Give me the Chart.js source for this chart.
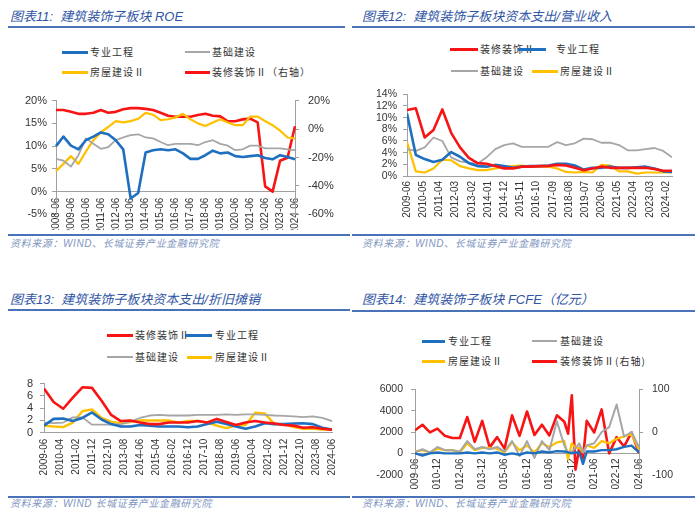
<!DOCTYPE html>
<html><head><meta charset="utf-8">
<script src="https://cdn.jsdelivr.net/npm/chart.js@4.4.1/dist/chart.umd.min.js"></script>
<style>
html,body{margin:0;padding:0;background:#fff;}
body{width:700px;height:521px;position:relative;overflow:hidden;font-family:'Noto Sans CJK SC',sans-serif;}
.title{position:absolute;font-style:italic;font-size:13px;line-height:16px;color:#2f55a4;white-space:nowrap;font-family:'Liberation Sans','Noto Sans CJK SC',sans-serif;}
.rule{position:absolute;background:#4a72b8;}
.src{position:absolute;font-style:italic;font-size:10px;line-height:14px;color:#8096c2;white-space:nowrap;font-family:'Liberation Sans','Noto Sans CJK SC',sans-serif;letter-spacing:0.6px;}
.lg{position:absolute;font-size:10px;line-height:14px;color:#333;white-space:nowrap;letter-spacing:1px;}
.sw{position:absolute;}
canvas{position:absolute;}
</style>
</head><body>
<div class="title" style="left:10px;top:9px">图表11:&nbsp; 建筑装饰子板块 ROE</div>
<div class="rule" style="left:8px;top:26px;width:337px;height:2px"></div>
<div class="title" style="left:362px;top:9px">图表12:&nbsp; 建筑装饰子板块资本支出/营业收入</div>
<div class="rule" style="left:352px;top:26px;width:343px;height:2px"></div>
<div class="title" style="left:10px;top:292px">图表13:&nbsp; 建筑装饰子板块资本支出/折旧摊销</div>
<div class="rule" style="left:8px;top:309px;width:342px;height:2px"></div>
<div class="title" style="left:362px;top:292px">图表14:&nbsp; 建筑装饰子板块 FCFE（亿元）</div>
<div class="rule" style="left:352px;top:310px;width:343px;height:2px"></div>

<div class="rule" style="left:8px;top:234px;width:342px;height:1.5px"></div>
<div class="src" style="left:10px;top:237px">资料来源：WIND、长城证券产业金融研究院</div>
<div class="rule" style="left:352px;top:234px;width:343px;height:1.5px"></div>
<div class="src" style="left:362px;top:237px">资料来源：WIND、长城证券产业金融研究院</div>
<div class="rule" style="left:8px;top:496px;width:342px;height:1.5px"></div>
<div class="src" style="left:10px;top:497px">资料来源：WIND 长城证券产业金融研究院</div>
<div class="rule" style="left:352px;top:496px;width:343px;height:1.5px"></div>
<div class="src" style="left:362px;top:497px">资料来源：WIND、长城证券产业金融研究院</div>

<canvas id="c1" width="350" height="145" style="left:0px;top:85px"></canvas>
<canvas id="c2" width="350" height="148" style="left:350px;top:82px"></canvas>
<canvas id="c3" width="350" height="120" style="left:0px;top:370px"></canvas>
<canvas id="c4" width="350" height="116" style="left:350px;top:374px"></canvas>

<script>
// ---------------- Chart 11: ROE ----------------
const roeDates = ['2008-06','2008-12','2009-06','2009-12','2010-06','2010-12','2011-06','2011-12','2012-06','2012-12','2013-06','2013-12','2014-06','2014-12','2015-06','2015-12','2016-06','2016-12','2017-06','2017-12','2018-06','2018-12','2019-06','2019-12','2020-06','2020-12','2021-06','2021-12','2022-06','2022-12','2023-06','2023-12','2024-06'];
const roeZhuanye = [10.0,12.1,10.1,9.3,11.3,12.1,13.0,12.6,11.3,9.3,-1.5,-0.3,8.6,9.1,9.3,9.1,9.3,8.4,7.2,7.2,8.0,9.0,8.4,8.6,7.8,7.6,7.8,8.0,7.4,7.1,8.0,7.6,7.1];
const roeJichu = [7.2,6.8,5.5,8.0,11.7,10.5,9.4,9.8,11.3,11.9,12.4,12.6,11.9,11.7,10.9,10.2,10.5,10.5,10.5,10.2,10.9,11.3,10.5,10.1,9.1,9.3,10.1,10.1,9.5,9.5,9.5,9.3,9.1];
const roeFangwu = [4.5,6.1,7.8,6.1,8.8,11.3,13.0,14.2,15.5,15.2,15.5,16.0,17.3,16.9,15.7,15.9,16.3,17.1,15.9,15.0,14.4,15.2,15.9,15.2,14.6,14.6,16.5,16.5,15.5,14.6,13.4,11.9,11.7];
const roeZhuangxiu = [13.4,13.4,12.1,10.7,10.7,11.5,13.4,11.5,12.1,13.9,14.7,14.7,14.2,13.4,11.5,9.4,8.6,8.6,8.6,9.9,10.7,9.4,8.9,5.5,5.5,6.8,7.3,4.7,-40.3,-44.0,-22.3,-20.2,2.0];
const roeLeftTicks = [-5,0,5,10,15,20];
const roeRightTicks = [-60,-40,-20,0,20];

// ---------------- Chart 12: 资本支出/营业收入 ----------------
const capRevDates = ['2009-06','2009-12','2010-06','2010-12','2011-06','2011-12','2012-06','2012-12','2013-06','2013-12','2014-06','2014-12','2015-06','2015-12','2016-06','2016-12','2017-06','2017-12','2018-06','2018-12','2019-06','2019-12','2020-06','2020-12','2021-06','2021-12','2022-06','2022-12','2023-06','2023-12','2024-06'];
const capRevZhuangxiu = [11.3,11.6,6.6,7.9,11.4,7.4,4.9,3.1,2.2,2.1,1.7,1.3,1.3,1.6,1.6,1.7,1.7,1.9,1.8,1.4,1.0,1.3,1.6,1.4,1.4,1.4,1.4,1.4,1.2,0.9,0.9];
const capRevZhuanye = [10.7,3.6,2.9,2.4,2.8,4.1,3.3,2.2,1.7,1.6,1.9,1.7,1.4,1.6,1.7,1.7,1.8,2.1,2.1,1.8,1.1,1.4,1.4,1.6,1.4,1.4,1.5,1.6,1.3,0.8,0.7];
const capRevJichu = [4.6,4.3,4.9,6.6,6.0,3.2,2.5,2.3,2.1,3.2,4.6,5.3,5.6,5.0,5.0,5.0,5.0,5.8,5.3,5.6,6.4,6.3,5.7,5.7,5.3,4.4,4.4,4.6,4.8,4.3,3.2];
const capRevFangwu = [5.8,0.8,0.6,1.3,2.8,2.7,1.7,1.3,1.0,1.0,1.3,1.6,1.7,1.8,1.6,1.6,1.6,1.3,0.7,0.6,0.7,0.6,1.9,1.8,0.8,0.8,0.4,0.6,0.6,0.6,0.6];
const capRevXTicks = ['2009-06','2010-05','2011-04','2012-03','2013-02','2014-01','2014-12','2015-11','2016-10','2017-09','2018-08','2019-07','2020-06','2021-05','2022-04','2023-03','2024-02'];
const capRevYTicks = [0,2,4,6,8,10,12,14];

// ---------------- Chart 13: 资本支出/折旧摊销 ----------------
const capDepDates = capRevDates.slice();
const capDepZhuangxiu = [7.2,5.0,3.9,5.7,7.4,7.3,5.2,2.9,1.9,2.0,1.65,1.4,1.4,1.65,1.65,1.65,1.9,1.65,2.25,1.75,1.25,1.65,1.9,1.65,1.5,1.25,1.15,0.8,0.9,0.65,0.5];
const capDepZhuanye = [1.15,2.25,2.3,1.9,2.4,3.3,2.15,1.4,1.0,1.0,1.25,1.15,1.0,1.0,1.0,0.9,1.0,1.4,1.8,1.4,1.0,0.65,1.0,1.55,1.4,1.4,1.5,1.55,1.4,0.8,0.5];
const capDepJichu = [1.65,1.55,1.65,2.5,2.5,1.3,1.3,1.3,1.4,1.8,2.4,2.8,2.9,2.8,2.8,2.8,2.9,2.9,2.9,3.0,2.9,3.0,3.0,2.9,2.8,2.75,2.65,2.55,2.65,2.4,1.9];
const capDepFangwu = [1.15,1.0,0.9,1.65,3.5,3.8,2.4,1.8,1.5,1.75,2.0,2.0,2.0,2.0,1.65,1.9,1.9,1.65,1.15,0.75,1.15,1.25,3.25,3.15,1.4,1.4,0.9,0.65,0.65,0.5,0.5];
const capDepXTicks = ['2009-06','2010-04','2011-02','2011-12','2012-10','2013-08','2014-06','2015-04','2016-02','2016-12','2017-10','2018-08','2019-06','2020-04','2021-02','2021-12','2022-10','2023-08','2024-06'];
const capDepYTicks = [0,2,4,6,8];

// ---------------- Chart 14: FCFE (亿元) ----------------
const fcfeDates = ['2009-06','2009-12','2010-06','2010-12','2011-06','2011-12','2012-06','2012-12','2013-06','2013-12','2014-06','2014-12','2015-06','2015-12','2016-06','2016-12','2017-06','2017-12','2018-06','2018-12','2019-06','2019-09','2019-12','2020-03','2020-06','2020-09','2020-12','2021-06','2021-12','2022-06','2022-12','2023-06','2023-12','2024-06'];
const fcfeZhuanye = [0,-200,0,85,0,0,0,85,0,85,0,85,-130,0,-130,85,0,170,85,210,170,85,0,85,85,-980,170,170,300,300,385,600,730,85];
const fcfeJichu = [85,385,85,600,300,300,170,1150,385,600,385,600,170,1150,-250,1150,-430,1150,300,3000,730,85,170,510,940,85,730,940,2000,2450,4580,1580,2000,600];
const fcfeFangwu = [170,300,85,430,300,300,85,940,300,510,510,430,85,1030,300,730,85,940,600,1030,1150,-560,940,510,510,85,730,510,1150,940,1370,1580,1800,300];
const fcfeZhuangxiu = [4,17,-1,8,-9,-14,-14,35,-23,26,-36,-12,-39,39,-9,48,-7,17,-8,39,24,-4,86,-88,-37,-61,26,-1,53,-50,-12,-34,-1,-50];
const fcfeXTicks = ['2009-06','2010-12','2012-06','2013-12','2015-06','2016-12','2018-06','2019-12','2021-06','2022-12','2024-06'];
const fcfeLeftTicks = [-2000,0,2000,4000,6000];
const fcfeRightTicks = [-100,0,100];

// ---------------- helpers ----------------
const C = {blue:'#1f6fc0', gray:'#a6a6a6', yellow:'#ffc000', red:'#f81414'};
const TICKFONT = "'Liberation Sans', Arial, sans-serif";
const AXIS = '#a0a0a0', LABEL = '#333333';
Chart.defaults.font.family = TICKFONT;
Chart.defaults.animation = false;

function ym(s){ const p = s.split('-').map(Number); return (p[0]-2009)*12 + (p[1]-6); }
function pts(dates, vals){ return dates.map((d,i)=>({x: ym(d), y: vals[i]})); }
function line(label, data, color, width, axis){
  return {label, data, borderColor:color, backgroundColor:color, borderWidth:width, pointRadius:0, tension:0, fill:false, yAxisID: axis||'y', borderJoinStyle:'round'};
}
function yScale(pos, min, max, tickVals, width, pad, fmt, fs){
  return {
    position: pos, min, max,
    afterFit: s => { s.width = width; },
    afterBuildTicks: s => { s.ticks = tickVals.map(v => ({value: v})); },
    grid: {drawOnChartArea:false, drawTicks:true, tickLength:4, color:AXIS},
    border: {display:true, color:AXIS, width:1},
    ticks: {autoSkip:false, padding: pad, color: LABEL, font:{size: fs||10}, callback: fmt}
  };
}
function xLinear(tickLabels, height, pad, position){
  return {
    type:'linear', min:0, max:180, position: position || 'bottom',
    afterFit: s => { s.height = height; },
    afterBuildTicks: s => { s.ticks = tickLabels.map(l => ({value: ym(l)})); },
    grid: {display:false, drawTicks:false},
    border: {display:true, color:AXIS, width:1},
    ticks: {autoSkip:false, minRotation:90, maxRotation:90, padding:pad, color:LABEL, font:{size:10},
            callback: (v,i) => tickLabels[i]}
  };
}
function htmlLegend(chart, spots){
  chart.data.datasets.forEach((d,i)=>{
    const p = spots[i];
    const sw = document.createElement('div');
    sw.className = 'sw';
    const h = d.borderColor === C.gray ? 2 : 3;
    sw.style.cssText = `left:${p[0]}px;top:${p[3]-h/2}px;width:${p[1]-p[0]}px;height:${h}px;background:${d.borderColor}`;
    const tx = document.createElement('div');
    tx.className = 'lg';
    tx.textContent = d.label;
    tx.style.left = p[2]+'px';
    tx.style.top = (p[3]-7)+'px';
    document.body.appendChild(sw);
    document.body.appendChild(tx);
  });
}
const pct = v => v + '%';

// ---------------- Chart 11 ----------------
const ch1 = new Chart(document.getElementById('c1'), {
  type:'line',
  data:{ labels: roeDates, datasets:[
    line('专业工程', roeZhuanye, C.blue, 2.6),
    line('基础建设', roeJichu, C.gray, 1.8),
    line('房屋建设Ⅱ', roeFangwu, C.yellow, 2.2),
    line('装修装饰Ⅱ（右轴）', roeZhuangxiu, C.red, 2.6, 'y1')
  ]},
  options:{
    responsive:false,
    layout:{padding:{top:9.7,left:0,right:0,bottom:0}},
    plugins:{legend:{display:false}, tooltip:{enabled:false}},
    scales:{
      x:{type:'category', offset:false, position:{y:0},
         afterFit: s => { s.height = 34.5; },
         grid:{display:false, drawTicks:false},
         border:{display:true, color:AXIS, width:1},
         ticks:{autoSkip:false, minRotation:90, maxRotation:90, padding:6, color:LABEL, font:{size:10},
                callback: function(v,i){ return i%2===0 ? this.getLabelForValue(v) : ''; }}},
      y: yScale('left', -5, 20, roeLeftTicks, 56, 5, pct, 11),
      y1: yScale('right', -60, 20, roeRightTicks, 55, 9, pct, 11)
    }
  }
});
htmlLegend(ch1, [[62,88,90,52],[185,210,212,52],[62,88,90,72],[185,210,212,72]]);

// ---------------- Chart 12 ----------------
const ch2 = new Chart(document.getElementById('c2'), {
  type:'line',
  data:{ datasets:[
    line('装修装饰Ⅱ', pts(capRevDates, capRevZhuangxiu), C.red, 2.6),
    line('专业工程', pts(capRevDates, capRevZhuanye), C.blue, 2.6),
    line('基础建设', pts(capRevDates, capRevJichu), C.gray, 1.8),
    line('房屋建设Ⅱ', pts(capRevDates, capRevFangwu), C.yellow, 2.2)
  ]},
  options:{
    responsive:false,
    layout:{padding:{top:9.7,left:0,right:28,bottom:0}},
    plugins:{legend:{display:false}, tooltip:{enabled:false}},
    scales:{
      x: xLinear(capRevXTicks, 54, 5),
      y: yScale('left', 0, 14, capRevYTicks, 57, 6, pct, 10.5)
    }
  }
});
htmlLegend(ch2, [[450,478,480,49],[518,546,556,49],[451,478,480,71],[532,558,560,71]]);

// ---------------- Chart 13 ----------------
const ch3 = new Chart(document.getElementById('c3'), {
  type:'line',
  data:{ datasets:[
    line('装修装饰Ⅱ', pts(capDepDates, capDepZhuangxiu), C.red, 2.6),
    line('专业工程', pts(capDepDates, capDepZhuanye), C.blue, 2.6),
    line('基础建设', pts(capDepDates, capDepJichu), C.gray, 1.8),
    line('房屋建设Ⅱ', pts(capDepDates, capDepFangwu), C.yellow, 2.4)
  ]},
  options:{
    responsive:false,
    layout:{padding:{top:9.3,left:0,right:16,bottom:0}},
    plugins:{legend:{display:false}, tooltip:{enabled:false}},
    scales:{
      x: xLinear(capDepXTicks, 57.3, 6),
      y: yScale('left', 0, 8, capDepYTicks, 44, 7, v => v, 11)
    }
  }
});
htmlLegend(ch3, [[107,133,135,335],[185,212,215,335],[107,133,135,357],[187,212,215,357]]);

// ---------------- Chart 14 ----------------
const ch4 = new Chart(document.getElementById('c4'), {
  type:'line',
  data:{ datasets:[
    line('专业工程', pts(fcfeDates, fcfeZhuanye), C.blue, 2.4),
    line('基础建设', pts(fcfeDates, fcfeJichu), C.gray, 2.0),
    line('房屋建设Ⅱ', pts(fcfeDates, fcfeFangwu), C.yellow, 2.2),
    line('装修装饰Ⅱ(右轴)', pts(fcfeDates, fcfeZhuangxiu), C.red, 2.6, 'y1')
  ]},
  options:{
    responsive:false,
    layout:{padding:{top:10,left:0,right:0,bottom:0}},
    plugins:{legend:{display:false}, tooltip:{enabled:false}},
    scales:{
      x: xLinear(fcfeXTicks, 44.3, 5, {y:0}),
      y: yScale('left', -2000, 6000, fcfeLeftTicks, 65, 8, v => v, 10.5),
      y1: yScale('right', -100, 100, fcfeRightTicks, 61, 9, v => v, 10.5)
    }
  }
});
htmlLegend(ch4, [[422,445,448,341],[532,557,560,341],[422,445,448,361],[532,557,560,361]]);
</script>
</body></html>
